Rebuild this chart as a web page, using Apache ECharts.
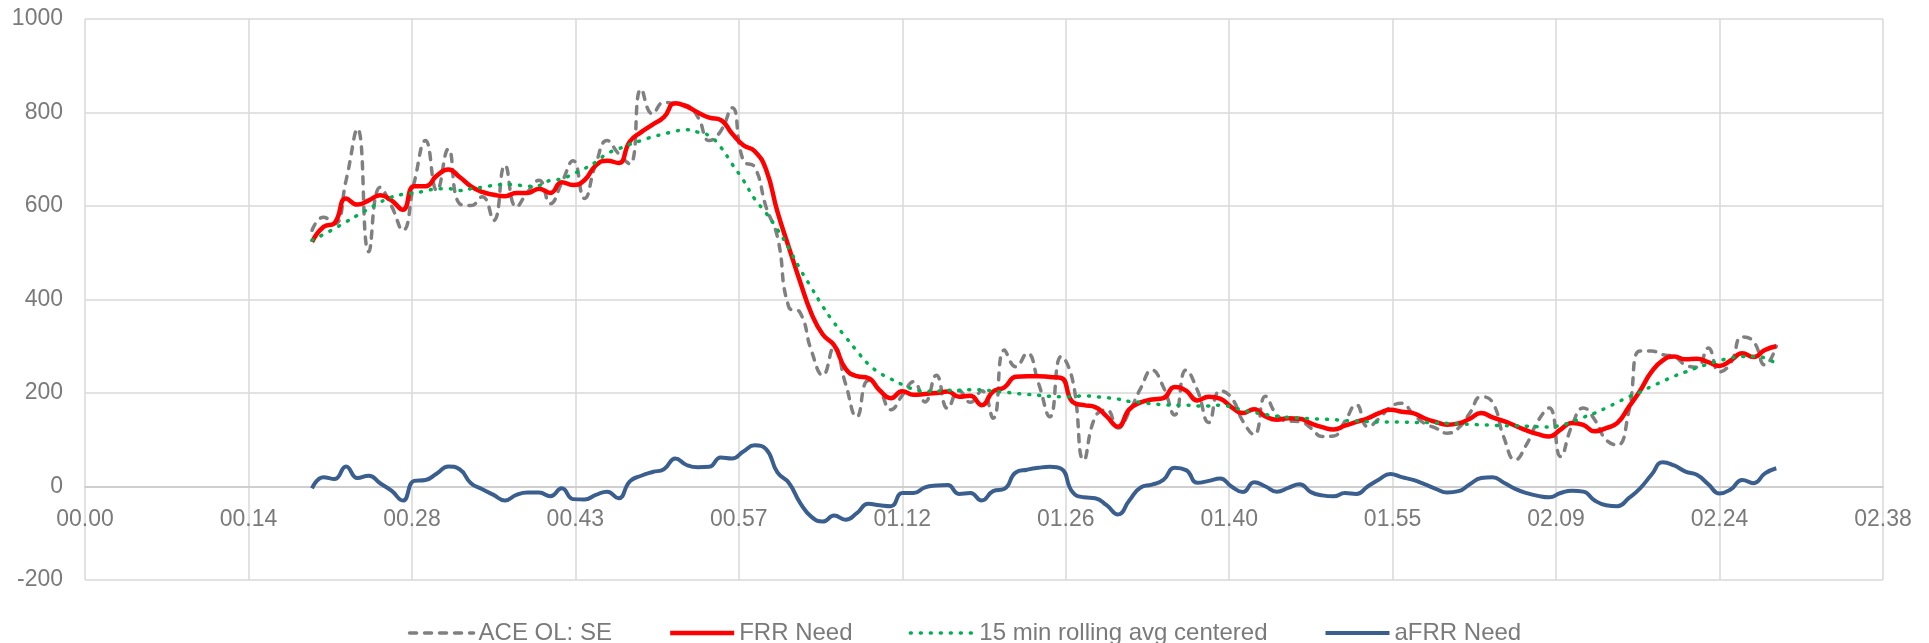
<!DOCTYPE html>
<html>
<head>
<meta charset="utf-8">
<script src="https://cdn.jsdelivr.net/npm/echarts@6/dist/echarts.min.js"></script>
<style>
html,body{margin:0;padding:0;background:#ffffff;}
#chart{width:1929px;height:643px;}
</style>
</head>
<body>
<div id="chart"></div>
<script>
// time in minutes after 00:00
const minutes = [20,21,22,23,24,25,26,27,28,29,30,31,32,33,34,35,36,37,38,39,40,41,42,43,44,45,46,47,48,49,
50,51,52,53,54,55,56,57,58,59,60,61,62,63,64,65,66,67,68,69,70,71,72,73,74,75,76,77,78,79,
80,81,82,83,84,85,86,87,88,89,90,91,92,93,94,95,96,97,98,99,100,101,102,103,104,105,106,107,108,109,
110,111,112,113,114,115,116,117,118,119,120,121,122,123,124,125,126,127,128,129,130,131,132,133,134,135,136,137,138,139,
140,141,142,143,144,145,146,147,148,149];

const xTickLabels = ['00.00','00.14','00.28','00.43','00.57','01.12','01.26','01.40','01.55','02.09','02.24','02.38'];
const xTickStep = 14.4;

const aceOL = [548,576,562,655,765,502,640,600,548,650,
740,633,722,605,601,620,569,687,598,630,
655,605,650,697,616,690,740,712,690,850,
797,822,818,815,790,740,760,810,697,683,
598,534,384,372,290,238,299,220,149,226,
205,164,195,224,181,238,167,205,180,205,
146,292,256,285,221,149,278,228,57,149,
164,125,160,210,249,213,153,249,206,137,
205,190,140,111,193,153,140,139,125,107,
108,140,175,128,145,170,178,155,135,125,
114,125,157,192,180,105,57,90,140,168,
64,130,168,143,100,89,160,290,290,282,
278,260,255,296,245,265,320,310,260,300];

const frrNeed = [523,555,564,616,603,612,623,612,592,642,
642,665,678,662,642,630,624,621,628,628,
637,628,651,645,655,687,697,692,738,758,
774,790,820,813,800,789,784,755,730,717,
678,588,512,438,370,325,302,252,236,232,
206,189,204,196,198,200,203,192,194,174,
203,212,235,236,236,234,232,181,174,170,
150,128,165,180,186,189,213,205,184,192,
188,170,157,165,150,143,146,145,135,127,
122,130,138,146,157,164,160,157,146,138,
132,135,145,157,148,140,130,120,112,107,
122,136,132,118,125,136,170,205,245,270,
278,272,273,266,258,270,285,277,292,300];

const rollingAvg = [527,539,552,566,580,594,608,619,625,628,
632,637,637,633,637,640,644,646,645,642,
644,655,658,669,680,694,712,722,732,740,
748,754,760,763,758,750,726,690,655,615,
585,550,510,465,425,385,350,320,290,262,
243,230,218,208,204,204,206,206,207,207,
204,202,199,197,195,193,192,192,194,192,
190,187,182,180,177,175,174,174,172,172,
174,170,163,158,154,150,148,146,145,144,
143,141,140,139,138,138,138,137,137,136,
135,134,133,132,131,130,130,129,128,127,
131,138,148,157,168,180,192,202,214,225,
236,245,254,262,269,275,278,278,275,262];

const afrrNeed = [-4,20,16,43,18,23,7,-9,-30,12,
14,28,43,37,7,-6,-18,-30,-18,-13,
-13,-21,-4,-27,-28,-18,-11,-25,11,23,
31,37,60,46,41,42,62,60,75,88,
80,30,8,-35,-65,-75,-62,-71,-57,-37,
-40,-42,-14,-14,-2,2,3,-16,-14,-30,
-10,-5,30,36,40,42,38,-12,-23,-25,
-40,-60,-30,-2,4,14,40,35,8,12,
17,0,-12,9,0,-11,-3,5,-12,-19,
-21,-14,-16,0,15,27,20,14,5,-5,
-13,-10,5,18,20,8,-5,-14,-20,-23,
-14,-9,-11,-30,-40,-42,-25,-4,25,52,
45,32,25,5,-15,-6,14,7,28,39];

const seriesNames = ['ACE OL: SE','FRR Need','15 min rolling avg centered','aFRR Need'];

const yMin = -200, yMax = 1000, yStep = 200;

function pairs(vals){ return minutes.map(function(m,i){ return [m, vals[i]]; }); }

const FONT = "'Liberation Sans', Arial, sans-serif";
const TXT = '#7a7a7a';

const GRID_TOP = 19, GRID_BOTTOM = 63, H = 643;
const plotH = H - GRID_TOP - GRID_BOTTOM;
// distance of the zero line above the bottom of the plot
const zeroOffset = plotH * (0 - yMin) / (yMax - yMin);

const styles = [
  {color: '#808080', width: 3.5, type: [7, 8], cap: 'round'},
  {color: '#ff0000', width: 4.5, type: 'solid'},
  {color: '#00b050', width: 3.5, type: [1, 9], cap: 'round'},
  {color: '#3a5f8f', width: 4, type: 'solid'}
];

const chart = echarts.init(document.getElementById('chart'), null, {renderer:'canvas'});
chart.setOption({
  animation: false,
  backgroundColor: '#ffffff',
  textStyle: {fontFamily: FONT},
  grid: {left: 85, right: 46, top: GRID_TOP, bottom: GRID_BOTTOM, containLabel: false},
  xAxis: {
    type: 'value',
    position: 'bottom',
    offset: -zeroOffset,
    min: 0,
    max: xTickStep * (xTickLabels.length - 1),
    interval: xTickStep,
    axisLine: {show: true, onZero: false, lineStyle: {color: '#c9c9c9', width: 1.5}},
    axisTick: {show: false},
    axisLabel: {
      margin: 22, color: TXT, fontSize: 23, fontFamily: FONT,
      showMinLabel: true, showMaxLabel: true,
      formatter: function(v){ return xTickLabels[Math.round(v / xTickStep)] || ''; }
    },
    splitLine: {show: true, lineStyle: {color: '#d9d9d9', width: 1.5}}
  },
  yAxis: {
    type: 'value',
    min: yMin, max: yMax, interval: yStep,
    axisLine: {show: false},
    axisTick: {show: false},
    axisLabel: {margin: 22, color: TXT, fontSize: 23, fontFamily: FONT,
      formatter: function(v){ return String(v); }},
    splitLine: {show: true, lineStyle: {color: '#d9d9d9', width: 1.5}}
  },
  legend: {
    top: 616,
    left: 'center',
    itemWidth: 64,
    itemHeight: 14,
    itemGap: 56,
    itemStyle: {opacity: 0},
    textStyle: {color: TXT, fontSize: 24, fontFamily: FONT},
    data: seriesNames.map(function(n, i){
      return {name: n, lineStyle: {width: styles[i].width, type: styles[i].type, cap: styles[i].cap || 'butt', color: styles[i].color}};
    })
  },
  series: seriesNames.map(function(n, i){
    const vals = [aceOL, frrNeed, rollingAvg, afrrNeed][i];
    return {
      name: n, type: 'line', data: pairs(vals), smooth: 0.5,
      symbol: 'none', showSymbol: false,
      lineStyle: styles[i],
      itemStyle: {color: styles[i].color}
    };
  })
});
</script>
</body>
</html>
